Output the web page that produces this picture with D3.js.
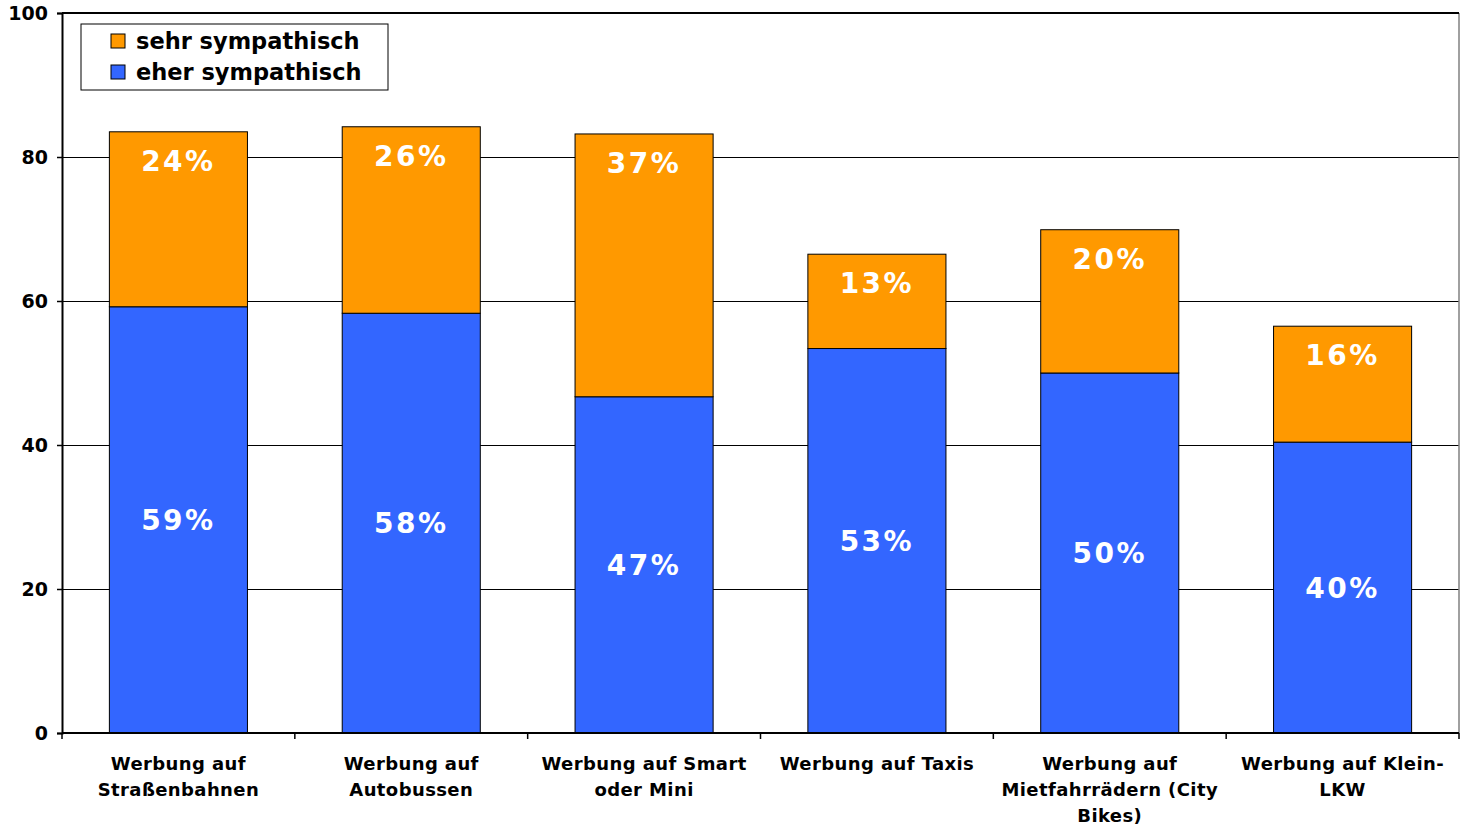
<!DOCTYPE html>
<html>
<head>
<meta charset="utf-8">
<script src="https://cdn.jsdelivr.net/npm/d3@7"></script>
<style>
  body { margin: 0; background: #fff; }
  text { font-family: "DejaVu Sans", Verdana, sans-serif; font-weight: bold; }
</style>
</head>
<body>
<div id="chart"></div>
<script>
// data
var categories = [
  ["Werbung auf", "Straßenbahnen"],
  ["Werbung auf", "Autobussen"],
  ["Werbung auf Smart", "oder Mini"],
  ["Werbung auf Taxis"],
  ["Werbung auf", "Mietfahrrädern (City", "Bikes)"],
  ["Werbung auf Klein-", "LKW"]
];
var eherValues = [59.2, 58.3, 46.7, 53.4, 50.0, 40.4];
var sehrValues = [24.3, 25.9, 36.5, 13.1, 19.9, 16.1];
var seriesNames = ["sehr sympathisch", "eher sympathisch"];
var yTicks = [0, 20, 40, 60, 80, 100];

var W = 1466, H = 827;
var margin = {top: 13, right: 7, bottom: 94, left: 62},
    width = W - margin.left - margin.right,
    height = H - margin.top - margin.bottom;

var svg = d3.select("#chart").append("svg")
    .attr("width", W)
    .attr("height", H);
var g = svg.append("g")
    .attr("transform", "translate(" + margin.left + "," + margin.top + ")");

var x = d3.scaleBand()
    .domain(d3.range(categories.length))
    .range([0, width])
    .paddingInner(0.407)
    .paddingOuter(0.2035);

var y = d3.scaleLinear().domain([0, 100]).range([height, 0]);

// grid lines
g.append("g").selectAll("line")
  .data(yTicks.slice(1))
  .enter().append("line")
    .attr("x1", 0).attr("x2", width)
    .attr("y1", function(d){ return Math.round(y(d)) + 0.5; })
    .attr("y2", function(d){ return Math.round(y(d)) + 0.5; })
    .attr("stroke", "#000")
    .attr("stroke-width", 1);

// right border grey
g.append("line")
  .attr("x1", width).attr("x2", width)
  .attr("y1", 0).attr("y2", height)
  .attr("stroke", "#808080").attr("stroke-width", 1.5);

// stacked bars
var rows = categories.map(function(c, i){ return {i: i, eher: eherValues[i], sehr: sehrValues[i]}; });
var stacked = d3.stack().keys(["eher", "sehr"])(rows);
var color = {eher: "#3366FF", sehr: "#FF9900"};

var layers = g.append("g").selectAll("g")
  .data(stacked)
  .enter().append("g")
    .attr("fill", function(d){ return color[d.key]; });

layers.selectAll("rect")
  .data(function(d){ return d; })
  .enter().append("rect")
    .attr("x", function(d){ return x(d.data.i); })
    .attr("y", function(d){ return y(d[1]); })
    .attr("width", x.bandwidth())
    .attr("height", function(d){ return y(d[0]) - y(d[1]); })
    .attr("stroke", "#000")
    .attr("stroke-width", 1);

// value labels
layers.each(function(layer){
  d3.select(this).selectAll("text")
    .data(layer)
    .enter().append("text")
      .attr("x", function(d){ return x(d.data.i) + x.bandwidth() / 2; })
      .attr("y", function(d){
        if (layer.key === "eher") return (y(d[0]) + y(d[1])) / 2;
        return y(d[1]) + 29;
      })
      .attr("dy", "0.36em")
      .attr("text-anchor", "middle")
      .attr("fill", "#fff")
      .attr("font-size", 28)
      .style("letter-spacing", "2.5px")
      .text(function(d){ return Math.round(d[1] - d[0]) + "%"; });
});

// y axis
var yAxis = g.append("g")
  .call(d3.axisLeft(y).tickValues(yTicks).tickSize(5).tickPadding(9));
yAxis.select(".domain").attr("stroke", "#000").attr("stroke-width", 2);
yAxis.selectAll("line").attr("stroke", "#000").attr("stroke-width", 1.5);
yAxis.selectAll("text")
  .attr("font-size", 19)
  .attr("fill", "#000")
  .style("font-family", "DejaVu Sans, sans-serif")
  .style("font-weight", "bold");

// top border
g.append("line")
  .attr("x1", 0).attr("x2", width)
  .attr("y1", 0).attr("y2", 0)
  .attr("stroke", "#000").attr("stroke-width", 2);

// x axis
var xb = g.append("g").attr("transform", "translate(0," + height + ")");
xb.append("line")
  .attr("x1", 0).attr("x2", width)
  .attr("stroke", "#000").attr("stroke-width", 2);
var step = x.step();
xb.selectAll(".tk")
  .data(d3.range(categories.length + 1))
  .enter().append("line")
    .attr("class", "tk")
    .attr("x1", function(d){ return d * step; })
    .attr("x2", function(d){ return d * step; })
    .attr("y1", 0).attr("y2", 6)
    .attr("stroke", "#000").attr("stroke-width", 1.5);

var xl = xb.selectAll(".lbl")
  .data(categories)
  .enter().append("text")
    .attr("class", "lbl")
    .attr("text-anchor", "middle")
    .attr("font-size", 18)
    .style("letter-spacing", "0.4px")
    .attr("fill", "#000")
    .attr("transform", function(d, i){ return "translate(" + (x(i) + x.bandwidth() / 2) + ",37)"; });
xl.selectAll("tspan")
  .data(function(d){ return d; })
  .enter().append("tspan")
    .attr("x", 0)
    .attr("dy", function(d, j){ return j === 0 ? 0 : 26; })
    .text(function(d){ return d; });

// legend
var legend = g.append("g").attr("transform", "translate(19,11)");
legend.append("rect")
  .attr("width", 307).attr("height", 66)
  .attr("fill", "#fff").attr("stroke", "#000").attr("stroke-width", 1);
var li = legend.selectAll(".li")
  .data(seriesNames)
  .enter().append("g")
    .attr("class", "li")
    .attr("transform", function(d, i){ return "translate(30," + (17 + i * 31) + ")"; });
li.append("rect")
  .attr("x", 0).attr("y", -7)
  .attr("width", 14).attr("height", 14)
  .attr("fill", function(d, i){ return i === 0 ? color.sehr : color.eher; })
  .attr("stroke", "#000").attr("stroke-width", 1);
li.append("text")
  .attr("x", 25)
  .attr("dy", "0.36em")
  .attr("font-size", 22.5)
  .attr("fill", "#000")
  .text(function(d){ return d; });
</script>
</body>
</html>
